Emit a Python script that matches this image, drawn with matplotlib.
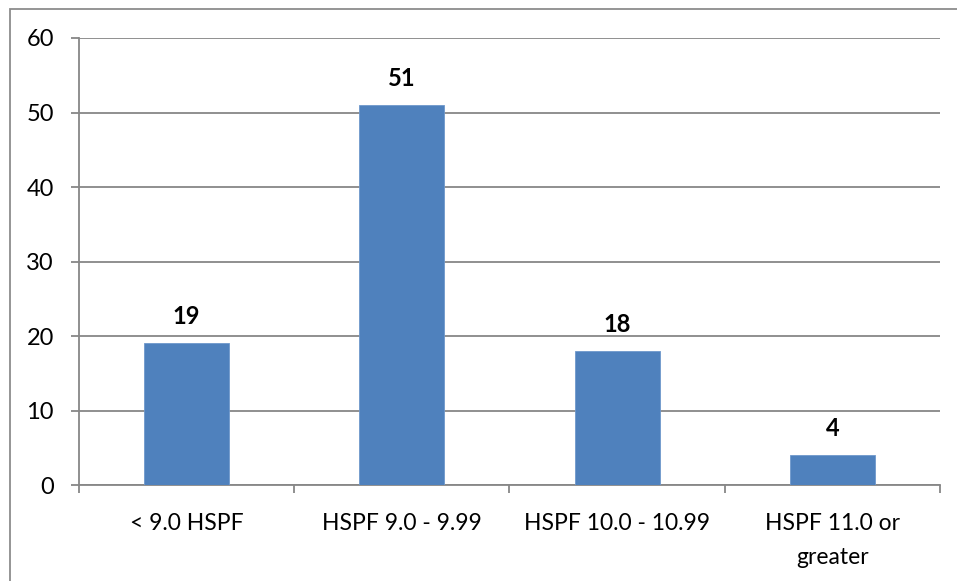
import matplotlib.pyplot as plt
import matplotlib.patches as patches
import numpy as np

# HSPF rating distribution
categories = ['< 9.0 HSPF', 'HSPF 9.0 - 9.99', 'HSPF 10.0 - 10.99', 'HSPF 11.0 or\ngreater']
counts = [19, 51, 18, 4]
y_ticks = [0, 10, 20, 30, 40, 50, 60]

plt.rcParams['font.family'] = ['Lato', 'DejaVu Sans']

fig = plt.figure(figsize=(9.57, 5.81), dpi=100)
ax = fig.add_axes([0.0825, 0.1652, 0.8997, 0.7694])

grid_col = '#878787'
x = np.arange(len(categories))
ax.bar(x, counts, width=0.395, color='#4F81BD', edgecolor='#6E98CC', linewidth=0.6, zorder=3)

for xi, v in zip(x, counts):
    ax.annotate(str(v), (xi, v), xytext=(0, 11), textcoords='offset points',
                ha='center', va='bottom', fontsize=17, fontweight='bold', color='black')

ax.set_xlim(-0.5, len(categories) - 0.5)
ax.set_ylim(0, 60)
ax.set_yticks(y_ticks)
ax.set_yticklabels([str(t) for t in y_ticks], fontsize=17)
ax.yaxis.grid(True, color=grid_col, linewidth=1.3, zorder=0)

ax.set_xticks(np.arange(-0.5, len(categories)), minor=False)
ax.set_xticklabels([])
ax.set_xticks(x, minor=True)
ax.set_xticklabels(categories, minor=True, fontsize=16.5, linespacing=1.75)
ax.tick_params(axis='x', which='minor', length=0, pad=20)
ax.tick_params(axis='x', which='major', length=6, width=1.3, color=grid_col)
ax.tick_params(axis='y', length=6, width=1.3, color=grid_col, pad=12)

for s in ['top', 'right']:
    ax.spines[s].set_visible(False)
for s in ['left', 'bottom']:
    ax.spines[s].set_color(grid_col)
    ax.spines[s].set_linewidth(1.3)

# outer chart border
fig.patches.append(patches.Rectangle((10 / 957, -0.1), 1.2, (581 - 9) / 581 + 0.1,
                                     transform=fig.transFigure, fill=False,
                                     edgecolor='#8c8c8c', linewidth=1.3))

fig.savefig('out.png', dpi=100)
